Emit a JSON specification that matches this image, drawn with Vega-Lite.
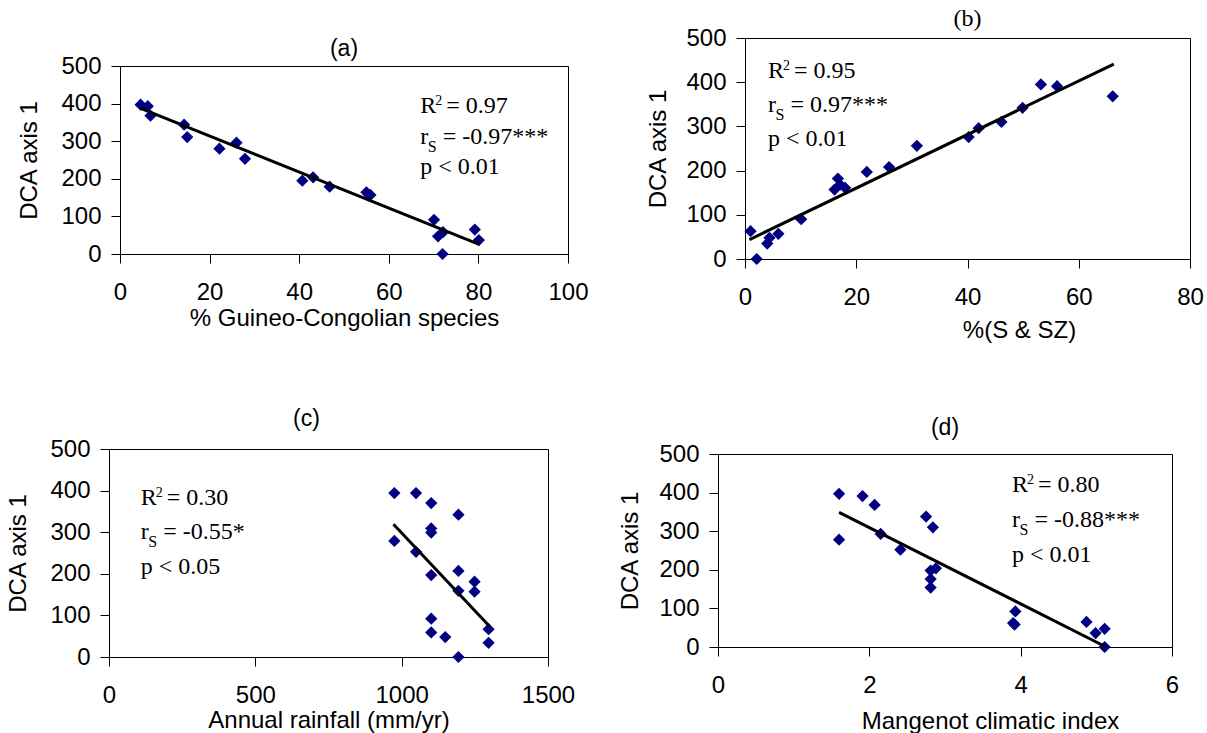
{
  "$schema": "https://vega.github.io/schema/vega-lite/v6.json",
  "padding": {"left": 0, "top": 0, "right": 0, "bottom": 0},
  "background": "white",
  "datasets": {
    "pa": [
      {"x": 4.6, "y": 397}, {"x": 6.2, "y": 393}, {"x": 6.8, "y": 368}, {"x": 14.3, "y": 344}, {"x": 15.0, "y": 311},
      {"x": 22.2, "y": 280}, {"x": 26.0, "y": 296}, {"x": 27.9, "y": 253}, {"x": 40.7, "y": 195}, {"x": 43.1, "y": 204},
      {"x": 46.8, "y": 179}, {"x": 55.0, "y": 164}, {"x": 55.9, "y": 157}, {"x": 70.1, "y": 91}, {"x": 71.0, "y": 47},
      {"x": 72.1, "y": 58}, {"x": 72.0, "y": 0}, {"x": 79.2, "y": 65}, {"x": 80.1, "y": 37}
    ],
    "pb": [
      {"x": 1.0, "y": 63}, {"x": 2.1, "y": 0}, {"x": 4.0, "y": 35}, {"x": 4.4, "y": 48}, {"x": 6.0, "y": 57},
      {"x": 10.1, "y": 90}, {"x": 16.1, "y": 157}, {"x": 16.7, "y": 182}, {"x": 17.1, "y": 168}, {"x": 18.0, "y": 161},
      {"x": 21.9, "y": 197}, {"x": 25.9, "y": 208}, {"x": 30.9, "y": 256}, {"x": 40.2, "y": 276}, {"x": 42.0, "y": 296},
      {"x": 46.1, "y": 310}, {"x": 49.9, "y": 342}, {"x": 53.2, "y": 395}, {"x": 56.1, "y": 391}, {"x": 66.1, "y": 368}
    ],
    "pc": [
      {"x": 975, "y": 394}, {"x": 975, "y": 279}, {"x": 1049, "y": 394}, {"x": 1049, "y": 253}, {"x": 1101, "y": 370},
      {"x": 1101, "y": 309}, {"x": 1101, "y": 299}, {"x": 1101, "y": 197}, {"x": 1101, "y": 92}, {"x": 1101, "y": 59},
      {"x": 1149, "y": 48}, {"x": 1194, "y": 342}, {"x": 1194, "y": 207}, {"x": 1194, "y": 159}, {"x": 1194, "y": 0},
      {"x": 1249, "y": 181}, {"x": 1249, "y": 157}, {"x": 1297, "y": 67}, {"x": 1297, "y": 34}
    ],
    "pd": [
      {"x": 1.60, "y": 397}, {"x": 1.60, "y": 278}, {"x": 1.91, "y": 391}, {"x": 2.07, "y": 368}, {"x": 2.15, "y": 293},
      {"x": 2.41, "y": 252}, {"x": 2.75, "y": 338}, {"x": 2.84, "y": 310}, {"x": 2.81, "y": 198}, {"x": 2.88, "y": 204},
      {"x": 2.81, "y": 176}, {"x": 2.81, "y": 154}, {"x": 3.93, "y": 92}, {"x": 3.92, "y": 58}, {"x": 3.90, "y": 62},
      {"x": 4.87, "y": 65}, {"x": 4.99, "y": 36}, {"x": 5.11, "y": 47}, {"x": 5.11, "y": 0}
    ],
    "fa": [{"x": 4.5, "y": 388}, {"x": 80.3, "y": 25}],
    "fb": [{"x": 0.8, "y": 44}, {"x": 66.3, "y": 441}],
    "fc": [{"x": 972, "y": 319}, {"x": 1300, "y": 74}],
    "fd": [{"x": 1.6, "y": 349}, {"x": 5.11, "y": 2}]
  },
  "config": {
    "view": {"stroke": "#000", "strokeWidth": 1},
    "axis": {
      "grid": false, "domainColor": "#000", "domainWidth": 1, "tickColor": "#000", "tickWidth": 1, "tickSize": 9, "tickCount": 20,
      "labelFont": "Liberation Sans", "labelFontSize": 24, "labelColor": "#000", "labelFlush": false, "labelOverlap": false,
      "titleFont": "Liberation Sans", "titleFontSize": 24, "titleFontWeight": "normal", "titleColor": "#000", "format": "d"
    },
    "axisX": {"labelPadding": 17, "titleBaseline": "top", "titleAlign": "center", "titleAngle": 0},
    "axisY": {"labelPadding": 10, "titleBaseline": "middle", "titleAlign": "center", "titleAngle": -90},
    "title": {"font": "Liberation Sans", "fontSize": 23, "fontWeight": "normal", "color": "#000", "baseline": "bottom", "frame": "group", "anchor": "middle"},
    "text": {"font": "Liberation Serif", "fontSize": 24, "color": "#000", "align": "left", "baseline": "alphabetic"}
  },
  "spacing": 27,
  "hconcat": [
    {
      "spacing": 0,
      "vconcat": [
        {"width": 1, "height": 37, "data": {"values": []}, "mark": "point", "view": {"stroke": null}},
        {
          "spacing": 0,
          "hconcat": [
            {"width": 16, "height": 1, "data": {"values": []}, "mark": "point", "view": {"stroke": null}},
            {
              "width": 448, "height": 188,
              "title": {"text": "(a)", "offset": -7},
              "layer": [
                {"data": {"name": "pa"}, "mark": {"type": "point", "shape": "diamond", "filled": true, "size": 150, "color": "#000080", "opacity": 1},
                 "encoding": {
                   "x": {"field": "x", "type": "quantitative", "scale": {"domain": [0, 100], "nice": false, "zero": false}, "axis": {"values": [0, 20, 40, 60, 80, 100], "tickCount": 20, "title": "% Guineo-Congolian species", "titleX": 224, "titleY": 52}},
                   "y": {"field": "y", "type": "quantitative", "scale": {"domain": [0, 500], "nice": false}, "axis": {"values": [0, 100, 200, 300, 400, 500], "tickCount": 20, "title": "DCA axis 1", "titleX": -91, "titleY": 94}}
                 }},
                {"data": {"name": "fa"}, "mark": {"type": "line", "color": "#000", "strokeWidth": 3}, "encoding": {"x": {"field": "x", "type": "quantitative"}, "y": {"field": "y", "type": "quantitative"}}},
                {"data": {"values": [{}]}, "mark": {"type": "text", "text": "R"}, "encoding": {"x": {"datum": 67}, "y": {"datum": 375}}},
                {"data": {"values": [{}]}, "mark": {"type": "text", "text": "2", "fontSize": 14, "dx": 15, "dy": -8}, "encoding": {"x": {"datum": 67}, "y": {"datum": 375}}},
                {"data": {"values": [{}]}, "mark": {"type": "text", "text": "= 0.97", "dx": 26}, "encoding": {"x": {"datum": 67}, "y": {"datum": 375}}},
                {"data": {"values": [{}]}, "mark": {"type": "text", "text": "r"}, "encoding": {"x": {"datum": 67}, "y": {"datum": 293}}},
                {"data": {"values": [{}]}, "mark": {"type": "text", "text": "S", "fontSize": 16, "dx": 7.5, "dy": 8}, "encoding": {"x": {"datum": 67}, "y": {"datum": 293}}},
                {"data": {"values": [{}]}, "mark": {"type": "text", "text": "= -0.97***", "dx": 22.5}, "encoding": {"x": {"datum": 67}, "y": {"datum": 293}}},
                {"data": {"values": [{}]}, "mark": {"type": "text", "text": "p < 0.01"}, "encoding": {"x": {"datum": 67}, "y": {"datum": 213}}}
              ]
            }
          ]
        },
        {"width": 1, "height": 76, "data": {"values": []}, "mark": "point", "view": {"stroke": null}},
        {
          "spacing": 0,
          "hconcat": [
            {"width": 5, "height": 1, "data": {"values": []}, "mark": "point", "view": {"stroke": null}},
            {
              "width": 439, "height": 208,
              "title": {"text": "(c)", "offset": 6, "dx": -22},
              "layer": [
                {"data": {"name": "pc"}, "mark": {"type": "point", "shape": "diamond", "filled": true, "size": 150, "color": "#000080", "opacity": 1},
                 "encoding": {
                   "x": {"field": "x", "type": "quantitative", "scale": {"domain": [0, 1500], "nice": false, "zero": false}, "axis": {"values": [0, 500, 1000, 1500], "tickCount": 20, "title": "Annual rainfall (mm/yr)", "titleX": 219.5, "titleY": 51}},
                   "y": {"field": "y", "type": "quantitative", "scale": {"domain": [0, 500], "nice": false}, "axis": {"values": [0, 100, 200, 300, 400, 500], "tickCount": 20, "title": "DCA axis 1", "titleX": -91, "titleY": 104}}
                 }},
                {"data": {"name": "fc"}, "mark": {"type": "line", "color": "#000", "strokeWidth": 3}, "encoding": {"x": {"field": "x", "type": "quantitative"}, "y": {"field": "y", "type": "quantitative"}}},
                {"data": {"values": [{}]}, "mark": {"type": "text", "text": "R"}, "encoding": {"x": {"datum": 108.3}, "y": {"datum": 366}}},
                {"data": {"values": [{}]}, "mark": {"type": "text", "text": "2", "fontSize": 14, "dx": 15, "dy": -8}, "encoding": {"x": {"datum": 108.3}, "y": {"datum": 366}}},
                {"data": {"values": [{}]}, "mark": {"type": "text", "text": "= 0.30", "dx": 26}, "encoding": {"x": {"datum": 108.3}, "y": {"datum": 366}}},
                {"data": {"values": [{}]}, "mark": {"type": "text", "text": "r"}, "encoding": {"x": {"datum": 108.3}, "y": {"datum": 284}}},
                {"data": {"values": [{}]}, "mark": {"type": "text", "text": "S", "fontSize": 16, "dx": 7.5, "dy": 8}, "encoding": {"x": {"datum": 108.3}, "y": {"datum": 284}}},
                {"data": {"values": [{}]}, "mark": {"type": "text", "text": "= -0.55*", "dx": 22.5}, "encoding": {"x": {"datum": 108.3}, "y": {"datum": 284}}},
                {"data": {"values": [{}]}, "mark": {"type": "text", "text": "p < 0.05"}, "encoding": {"x": {"datum": 108.3}, "y": {"datum": 200}}}
              ]
            }
          ]
        }
      ]
    },
    {
      "spacing": 0,
      "vconcat": [
        {"width": 1, "height": 6, "data": {"values": []}, "mark": "point", "view": {"stroke": null}},
        {
          "spacing": 0,
          "hconcat": [
            {"width": 29, "height": 1, "data": {"values": []}, "mark": "point", "view": {"stroke": null}},
            {
              "width": 445, "height": 221,
              "title": {"text": "(b)", "font": "Liberation Serif", "fontSize": 24, "offset": -5},
              "layer": [
                {"data": {"name": "pb"}, "mark": {"type": "point", "shape": "diamond", "filled": true, "size": 150, "color": "#000080", "opacity": 1},
                 "encoding": {
                   "x": {"field": "x", "type": "quantitative", "scale": {"domain": [0, 80], "nice": false, "zero": false}, "axis": {"values": [0, 20, 40, 60, 80], "tickCount": 20, "title": "%(S & SZ)", "titleX": 274, "titleY": 59}},
                   "y": {"field": "y", "type": "quantitative", "scale": {"domain": [0, 500], "nice": false}, "axis": {"values": [0, 100, 200, 300, 400, 500], "tickCount": 20, "title": "DCA axis 1", "titleX": -87, "titleY": 110.5}}
                 }},
                {"data": {"name": "fb"}, "mark": {"type": "line", "color": "#000", "strokeWidth": 3}, "encoding": {"x": {"field": "x", "type": "quantitative"}, "y": {"field": "y", "type": "quantitative"}}},
                {"data": {"values": [{}]}, "mark": {"type": "text", "text": "R"}, "encoding": {"x": {"datum": 4.14}, "y": {"datum": 409.5}}},
                {"data": {"values": [{}]}, "mark": {"type": "text", "text": "2", "fontSize": 14, "dx": 15, "dy": -8}, "encoding": {"x": {"datum": 4.14}, "y": {"datum": 409.5}}},
                {"data": {"values": [{}]}, "mark": {"type": "text", "text": "= 0.95", "dx": 26}, "encoding": {"x": {"datum": 4.14}, "y": {"datum": 409.5}}},
                {"data": {"values": [{}]}, "mark": {"type": "text", "text": "r"}, "encoding": {"x": {"datum": 4.14}, "y": {"datum": 332.6}}},
                {"data": {"values": [{}]}, "mark": {"type": "text", "text": "S", "fontSize": 16, "dx": 7.5, "dy": 8}, "encoding": {"x": {"datum": 4.14}, "y": {"datum": 332.6}}},
                {"data": {"values": [{}]}, "mark": {"type": "text", "text": "= 0.97***", "dx": 22.5}, "encoding": {"x": {"datum": 4.14}, "y": {"datum": 332.6}}},
                {"data": {"values": [{}]}, "mark": {"type": "text", "text": "p < 0.01"}, "encoding": {"x": {"datum": 4.14}, "y": {"datum": 255.7}}}
              ]
            }
          ]
        },
        {"width": 1, "height": 73, "data": {"values": []}, "mark": "point", "view": {"stroke": null}},
        {
          "spacing": 0,
          "hconcat": [
            {"width": 1, "height": 1, "data": {"values": []}, "mark": "point", "view": {"stroke": null}},
            {
              "width": 454, "height": 193,
              "title": {"text": "(d)", "offset": 2},
              "layer": [
                {"data": {"name": "pd"}, "mark": {"type": "point", "shape": "diamond", "filled": true, "size": 150, "color": "#000080", "opacity": 1},
                 "encoding": {
                   "x": {"field": "x", "type": "quantitative", "scale": {"domain": [0, 6], "nice": false, "zero": false}, "axis": {"values": [0, 2, 4, 6], "tickCount": 20, "title": "Mangenot climatic index", "titleX": 272, "titleY": 62}},
                   "y": {"field": "y", "type": "quantitative", "scale": {"domain": [0, 500], "nice": false}, "axis": {"values": [0, 100, 200, 300, 400, 500], "tickCount": 20, "title": "DCA axis 1", "titleX": -88, "titleY": 96.5}}
                 }},
                {"data": {"name": "fd"}, "mark": {"type": "line", "color": "#000", "strokeWidth": 3}, "encoding": {"x": {"field": "x", "type": "quantitative"}, "y": {"field": "y", "type": "quantitative"}}},
                {"data": {"values": [{}]}, "mark": {"type": "text", "text": "R"}, "encoding": {"x": {"datum": 3.884}, "y": {"datum": 402}}},
                {"data": {"values": [{}]}, "mark": {"type": "text", "text": "2", "fontSize": 14, "dx": 15, "dy": -8}, "encoding": {"x": {"datum": 3.884}, "y": {"datum": 402}}},
                {"data": {"values": [{}]}, "mark": {"type": "text", "text": "= 0.80", "dx": 26}, "encoding": {"x": {"datum": 3.884}, "y": {"datum": 402}}},
                {"data": {"values": [{}]}, "mark": {"type": "text", "text": "r"}, "encoding": {"x": {"datum": 3.884}, "y": {"datum": 311.7}}},
                {"data": {"values": [{}]}, "mark": {"type": "text", "text": "S", "fontSize": 16, "dx": 7.5, "dy": 8}, "encoding": {"x": {"datum": 3.884}, "y": {"datum": 311.7}}},
                {"data": {"values": [{}]}, "mark": {"type": "text", "text": "= -0.88***", "dx": 22.5}, "encoding": {"x": {"datum": 3.884}, "y": {"datum": 311.7}}},
                {"data": {"values": [{}]}, "mark": {"type": "text", "text": "p < 0.01"}, "encoding": {"x": {"datum": 3.884}, "y": {"datum": 221}}}
              ]
            }
          ]
        }
      ]
    }
  ]
}
